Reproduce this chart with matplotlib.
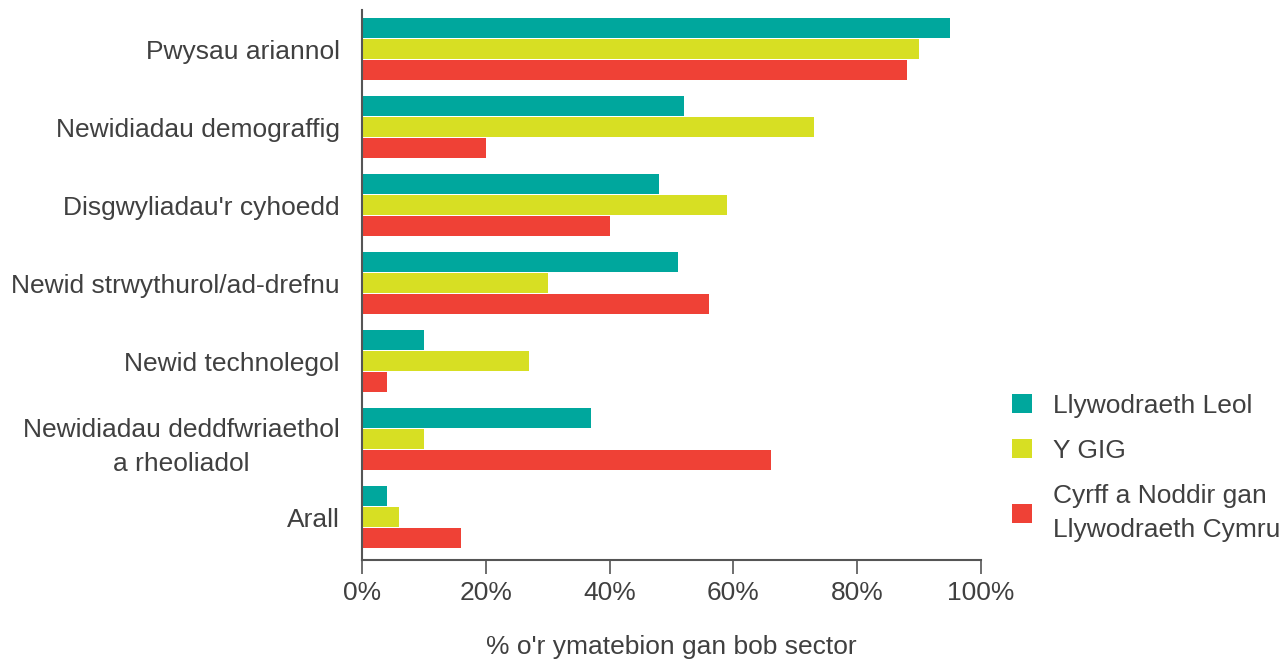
import numpy as np
import matplotlib.pyplot as plt
from matplotlib.patches import Patch
from matplotlib.ticker import FuncFormatter

plt.rcParams['font.family'] = ['Liberation Sans', 'DejaVu Sans']

categories = ["Pwysau ariannol", "Newidiadau demograffig", "Disgwyliadau'r cyhoedd",
              "Newid strwythurol/ad-drefnu", "Newid technolegol",
              "Newidiadau deddfwriaethol\na rheoliadol", "Arall"]
llyw_leol = [95, 52, 48, 51, 10, 37, 4]
y_gig = [90, 73, 59, 30, 27, 10, 6]
cyrff = [88, 20, 40, 56, 4, 66, 16]
series_names = ["Llywodraeth Leol", "Y GIG", "Cyrff a Noddir gan\nLlywodraeth Cymru"]
colors = ["#00a79d", "#d7df23", "#ef4136"]
text_col = "#404040"
fs = 19

fig = plt.figure(figsize=(12.87, 6.61), dpi=100)
ax = fig.add_axes([362/1287, 101/661, 619/1287, 550/661])

y = np.arange(len(categories))
h = 0.25
off = 0.27
for vals, dy, c in zip([llyw_leol, y_gig, cyrff], [-off, 0, off], colors):
    ax.barh(y + dy, vals, height=h, color=c)

ax.set_xlim(0, 100)
ax.set_ylim(6.55, -0.5)
ax.set_yticks(y)
ax.set_yticklabels(categories, fontsize=fs, color=text_col, ha='right',
                   multialignment='center', linespacing=1.55)
ax.tick_params(axis='y', length=0, pad=16)
ax.set_xticks(np.arange(0, 101, 20))
ax.xaxis.set_major_formatter(FuncFormatter(lambda v, p: f"{int(v)}%"))
ax.tick_params(axis='x', length=10, width=1.2, color="#555555", labelsize=fs,
               labelcolor=text_col, pad=5)
ax.set_xlabel("% o'r ymatebion gan bob sector", fontsize=fs, color=text_col, labelpad=22)

for s in ["top", "right"]:
    ax.spines[s].set_visible(False)
for s in ["left", "bottom"]:
    ax.spines[s].set_color("#555555")
    ax.spines[s].set_linewidth(1.5)

handles = [Patch(facecolor=c, edgecolor='none') for c in colors]
leg = fig.legend(handles, series_names, loc='upper left', bbox_to_anchor=(988/1287, 1 - 370/661),
                 frameon=False, fontsize=fs, handlelength=0.75, handleheight=0.75,
                 handletextpad=0.8, labelspacing=0.8)
for t in leg.get_texts():
    t.set_color(text_col)
    t.set_linespacing(1.55)

fig.savefig("out.png", dpi=100)
